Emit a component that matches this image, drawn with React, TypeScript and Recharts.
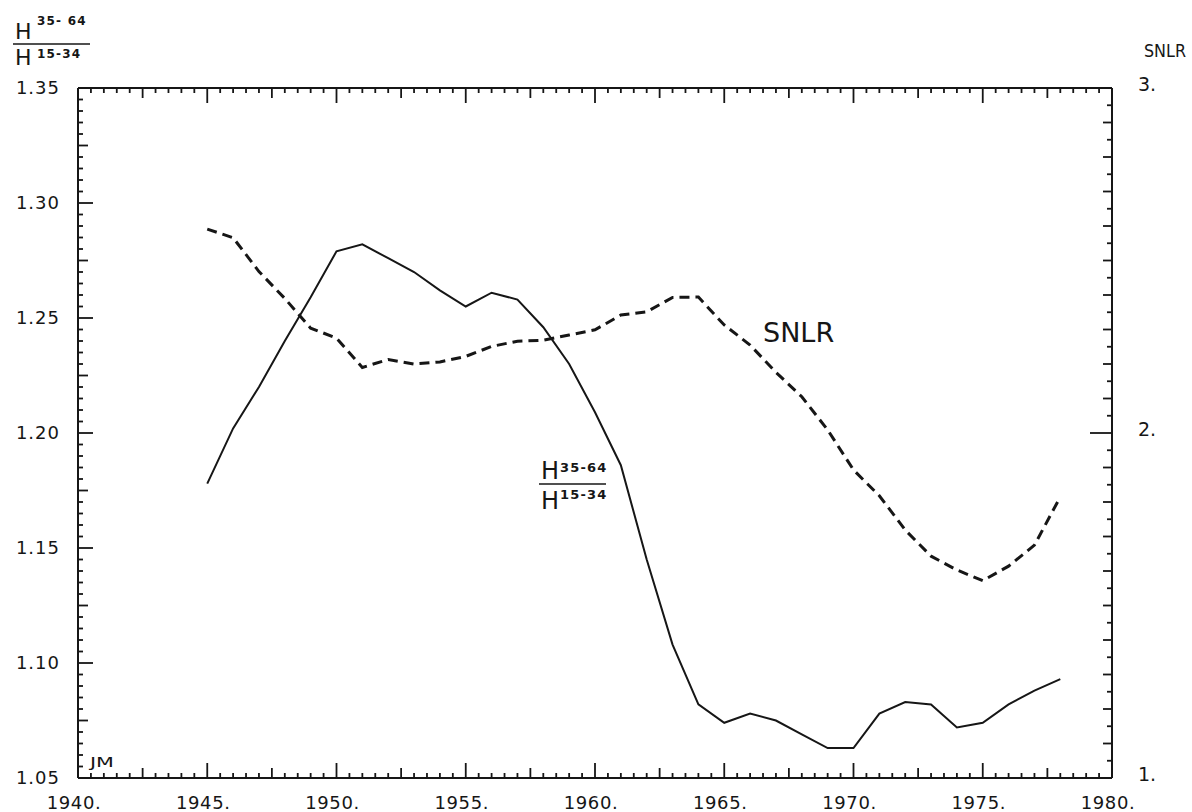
import React from 'react';
import { LineChart, Line, XAxis, YAxis } from 'recharts';

const years = [
  1945, 1946, 1947, 1948, 1949, 1950, 1951, 1952, 1953, 1954, 1955, 1956,
  1957, 1958, 1959, 1960, 1961, 1962, 1963, 1964, 1965, 1966, 1967, 1968,
  1969, 1970, 1971, 1972, 1973, 1974, 1975, 1976, 1977, 1978,
];

// H(35-64) / H(15-34), left axis
const ratio = [
  1.178, 1.202, 1.22, 1.24, 1.259, 1.279, 1.282, 1.276, 1.27, 1.262, 1.255, 1.261,
  1.258, 1.246, 1.23, 1.209, 1.186, 1.145, 1.108, 1.082, 1.074, 1.078, 1.075, 1.069,
  1.063, 1.063, 1.078, 1.083, 1.082, 1.072, 1.074, 1.082, 1.088, 1.093,
];

// SNLR, right axis
const snlr = [
  2.591, 2.566, 2.468, 2.39, 2.304, 2.275, 2.19, 2.213, 2.2, 2.206, 2.222, 2.251,
  2.266, 2.269, 2.284, 2.299, 2.342, 2.351, 2.393, 2.394, 2.313, 2.255, 2.176, 2.105,
  2.009, 1.893, 1.818, 1.719, 1.643, 1.603, 1.572, 1.614, 1.675, 1.815,
];

const xMajor = [1940, 1945, 1950, 1955, 1960, 1965, 1970, 1975, 1980];
const leftLabels = ['1.05', '1.10', '1.15', '1.20', '1.25', '1.30', '1.35'];
const rightLabels = ['1.', '2.', '3.'];

const data = years.map((y, i) => ({ year: y, ratio: ratio[i], snlr: snlr[i] }));

// tick positions (minor marks between the labelled ones)
const xTicks: number[] = [];
for (let i = 0; i <= 80; i++) xTicks.push(1940 + i / 2);
const leftTicks: number[] = [];
for (let i = 0; i <= 60; i++) leftTicks.push((1050 + i * 5) / 1000);
const rightTicks: number[] = [];
for (let i = 0; i <= 40; i++) rightTicks.push(1 + i / 20);

const INK = '#161616';
const FONT = '"DejaVu Sans", sans-serif';

const BottomTick = (props: any) => {
  const { x, y, payload } = props;
  const k = Math.round((payload.value - 1940) * 2);
  const len = k % 10 === 0 ? 15 : k % 5 === 0 ? 10 : 5;
  const idx = xMajor.indexOf(payload.value);
  return (
    <g>
      <line x1={x} y1={y} x2={x} y2={y - len} stroke={INK} strokeWidth={1.8} />
      {idx >= 0 && (
        <text x={x - 4} y={y + 31} textAnchor="middle" fontSize={18} letterSpacing={0.6} fill={INK} fontFamily={FONT}>
          {`${xMajor[idx]}.`}
        </text>
      )}
    </g>
  );
};

const TopTick = (props: any) => {
  const { x, y, payload } = props;
  const k = Math.round((payload.value - 1940) * 2);
  const len = k % 10 === 0 ? 15 : k % 5 === 0 ? 10 : 5;
  return <line x1={x} y1={y} x2={x} y2={y + len} stroke={INK} strokeWidth={1.8} />;
};

const LeftTick = (props: any) => {
  const { x, y, payload } = props;
  const k = Math.round((payload.value - 1.05) * 200);
  const len = k % 10 === 0 ? 15 : k % 5 === 0 ? 10 : 5;
  return (
    <g>
      <line x1={x} y1={y} x2={x + len} y2={y} stroke={INK} strokeWidth={1.8} />
      {k % 10 === 0 && (
        <text x={x - 18} y={y + 6} textAnchor="end" fontSize={18} letterSpacing={1} fill={INK} fontFamily={FONT}>
          {leftLabels[k / 10]}
        </text>
      )}
    </g>
  );
};

const RightTick = (props: any) => {
  const { x, y, payload } = props;
  const k = Math.round((payload.value - 1) * 20);
  const len = k % 20 === 0 ? 22 : k % 2 === 0 ? 9 : 5;
  return (
    <g>
      <line x1={x} y1={y} x2={x - len} y2={y} stroke={INK} strokeWidth={1.8} />
      {k % 20 === 0 && (
        <text x={x + 26} y={y + 3} textAnchor="start" fontSize={19} fill={INK} fontFamily={FONT}>
          {rightLabels[k / 20]}
        </text>
      )}
    </g>
  );
};

const Fraction = ({ x, y, size, sup, supDx, topDy, barDy, barW, denDy, botDy, supTop, supBottom }: any) => (
  <g fontFamily={FONT} fill={INK}>
    <text x={x} y={y} fontSize={size}>H</text>
    <text x={x + supDx} y={y + topDy} fontSize={sup} fontWeight="bold" letterSpacing={1.2}>{supTop}</text>
    <line x1={x - 2} y1={y + barDy} x2={x - 2 + barW} y2={y + barDy} stroke={INK} strokeWidth={1.6} />
    <text x={x} y={y + denDy} fontSize={size}>H</text>
    <text x={x + supDx} y={y + botDy} fontSize={sup} fontWeight="bold" letterSpacing={1.2}>{supBottom}</text>
  </g>
);

export default function App() {
  return (
    <div style={{ position: 'absolute', left: 0, top: 0, width: 1192, height: 812, background: '#fff' }}>
      <LineChart width={1192} height={812} data={data} margin={{ top: 78, right: 0, bottom: 0, left: 0 }}>
        <XAxis
          xAxisId="bottom"
          dataKey="year"
          type="number"
          domain={[1940, 1980]}
          ticks={xTicks}
          interval={0}
          height={34}
          tickSize={0}
          tickMargin={0}
          axisLine={{ stroke: INK, strokeWidth: 2 }}
          tickLine={false}
          tick={<BottomTick />}
        />
        <XAxis
          xAxisId="top"
          orientation="top"
          dataKey="year"
          type="number"
          domain={[1940, 1980]}
          ticks={xTicks}
          interval={0}
          height={10}
          tickSize={0}
          tickMargin={0}
          axisLine={{ stroke: INK, strokeWidth: 2 }}
          tickLine={false}
          tick={<TopTick />}
        />
        <YAxis
          yAxisId="left"
          type="number"
          domain={[1.05, 1.35]}
          ticks={leftTicks}
          interval={0}
          width={78}
          tickSize={0}
          tickMargin={0}
          axisLine={{ stroke: INK, strokeWidth: 2 }}
          tickLine={false}
          tick={<LeftTick />}
        />
        <YAxis
          yAxisId="right"
          orientation="right"
          type="number"
          domain={[1, 3]}
          ticks={rightTicks}
          interval={0}
          width={80}
          tickSize={0}
          tickMargin={0}
          axisLine={{ stroke: INK, strokeWidth: 2 }}
          tickLine={false}
          tick={<RightTick />}
        />
        <Line
          xAxisId="bottom"
          yAxisId="left"
          type="linear"
          dataKey="ratio"
          stroke={INK}
          strokeWidth={2}
          dot={false}
          isAnimationActive={false}
        />
        <Line
          xAxisId="bottom"
          yAxisId="right"
          type="linear"
          dataKey="snlr"
          stroke={INK}
          strokeWidth={3}
          strokeDasharray="10 6"
          dot={false}
          isAnimationActive={false}
        />
      </LineChart>
      <svg
        width={1192}
        height={812}
        style={{ position: 'absolute', left: 0, top: 0, pointerEvents: 'none' }}
      >
        <Fraction x={15} y={39} size={22} sup={12} supDx={22} topDy={-14} barDy={5} barW={77}
          denDy={26} botDy={19} supTop="35- 64" supBottom="15-34" />
        <Fraction x={541} y={479} size={24} sup={13} supDx={19} topDy={-7} barDy={5} barW={67}
          denDy={30} botDy={20} supTop="35-64" supBottom="15-34" />
        <text x={1144} y={57} fontSize={18} textLength={42} lengthAdjust="spacingAndGlyphs" fill={INK} fontFamily={FONT}>SNLR</text>
        <text x={763} y={342} fontSize={27} fill={INK} fontFamily={FONT}>SNLR</text>
        <text x={90} y={767} fontSize={14} textLength={24} lengthAdjust="spacingAndGlyphs" fill={INK} fontFamily={FONT}>JM</text>
      </svg>
    </div>
  );
}
